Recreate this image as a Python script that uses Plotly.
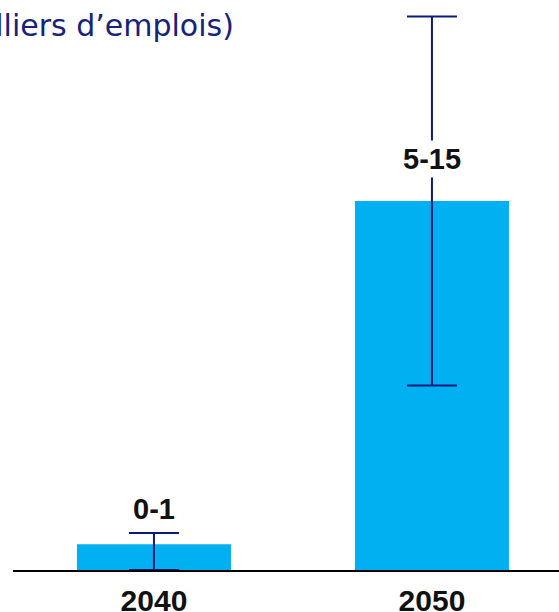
import plotly.graph_objects as go

# Job estimates by horizon (thousands of jobs)
years = ["2040", "2050"]
central = [0.7, 10]
low = [0, 5]
high = [1, 15]
range_labels = ["0-1", "5-15"]

BAR_BLUE = "#00B0F0"
NAVY = "#0B1A78"

err_plus = [h - c for h, c in zip(high, central)]
err_minus = [c - l for c, l in zip(central, low)]

fig = go.Figure()
fig.add_trace(go.Bar(
    x=years,
    y=central,
    width=0.554,
    marker=dict(color=BAR_BLUE, line=dict(width=0)),
    error_y=dict(
        type="data",
        symmetric=False,
        array=err_plus,
        arrayminus=err_minus,
        color=NAVY,
        thickness=2,
        width=25,
    ),
    hoverinfo="skip",
))

label_font = dict(family="Liberation Sans", size=29, color="#111111", weight="bold")

# Range labels above the error bars (category axis: positions by index)
fig.add_annotation(
    x=0, y=high[0], text=range_labels[0],
    showarrow=False, yanchor="bottom", yshift=6,
    font=label_font,
)
fig.add_annotation(
    x=1, y=central[1], text=range_labels[1],
    showarrow=False, yanchor="middle", yshift=42,
    bgcolor="white", borderpad=2,
    font=label_font,
)

# Unit subtitle
fig.add_annotation(
    xref="paper", yref="paper", x=0.408, y=0.956,
    xanchor="right", yanchor="middle",
    text="(en milliers d\u2019emplois)", showarrow=False,
    font=dict(family="DejaVu Sans", size=30, color="#16237A"),
)

fig.update_layout(
    width=559, height=612,
    margin=dict(l=13, r=0, t=0, b=42, autoexpand=False),
    paper_bgcolor="white", plot_bgcolor="white",
    showlegend=False,
    xaxis=dict(
        type="category",
        range=[-0.507, 1.457],
        automargin=False,
        showline=True, linecolor="black", linewidth=2,
        showgrid=False, zeroline=False,
        ticks="", ticklabelstandoff=3,
        tickfont=dict(family="Liberation Sans", size=30, color="#111111", weight="bold"),
    ),
    yaxis=dict(
        range=[0, 15.45],
        visible=False, showgrid=False, zeroline=False,
        automargin=False,
    ),
)

fig.write_html("out.html")
